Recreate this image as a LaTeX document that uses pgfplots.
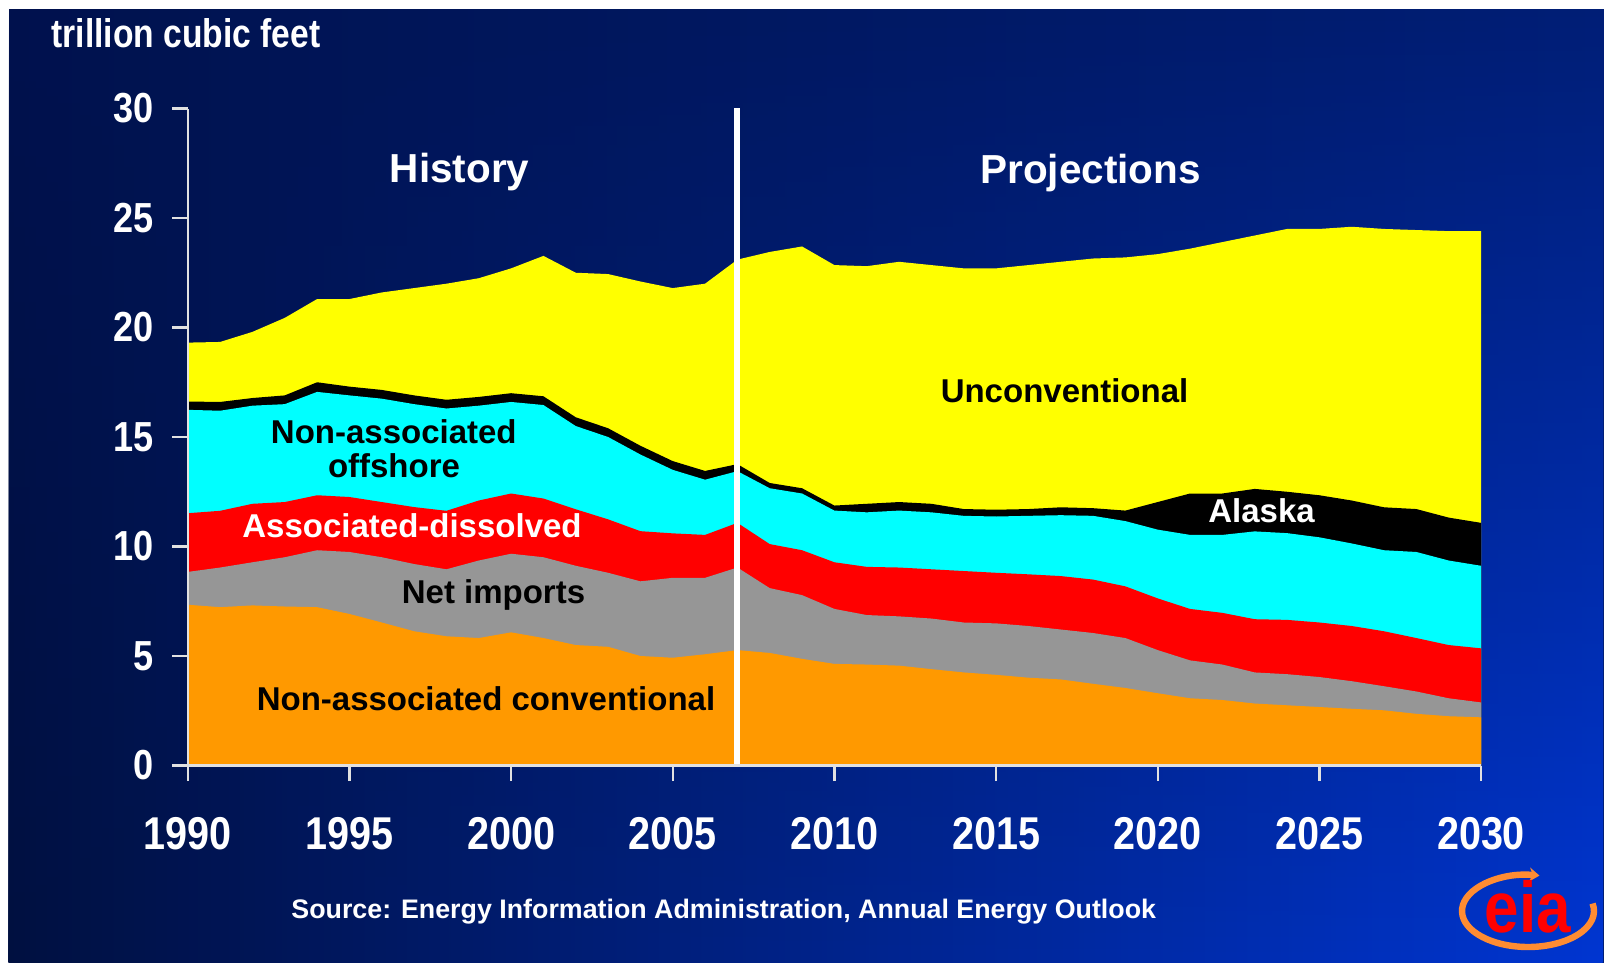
\documentclass[border=0pt]{standalone}
\usepackage{fontspec}
\setmainfont{Liberation Sans}
\newfontfamily\narrowf{Liberation Sans}[FakeStretch=0.86]
\newfontfamily\narrowg{Liberation Sans}[FakeStretch=0.84]
\usepackage{pgfplots}
\pgfplotsset{compat=1.18}
\usepackage{pgfplotstable}
\usetikzlibrary{fadings,arrows.meta}

\definecolor{bgdark}{RGB}{0,18,78}
\definecolor{bgmid}{RGB}{0,30,118}
\definecolor{bgleft}{RGB}{0,16,64}
\definecolor{bgright}{RGB}{0,54,210}
\definecolor{ngorange}{RGB}{255,153,0}
\definecolor{nggray}{RGB}{150,150,150}
\definecolor{ngred}{RGB}{255,0,0}
\definecolor{ngcyan}{RGB}{0,255,255}
\definecolor{ngyellow}{RGB}{255,255,0}
\definecolor{axiswhite}{RGB}{225,225,225}
\definecolor{logoorange}{RGB}{255,140,50}

% cumulative boundaries (trillion cubic feet)
% O = non-assoc. conventional, G = + net imports, R = + associated-dissolved,
% C = + non-assoc. offshore, A = + Alaska, T = + unconventional (total)
\pgfplotstableread{
year O    G    R     C     A     T
1990 7.34 8.84 11.52 16.24 16.62 19.31
1991 7.23 9.04 11.63 16.20 16.60 19.34
1992 7.31 9.28 11.95 16.43 16.78 19.80
1993 7.26 9.51 12.03 16.50 16.90 20.44
1994 7.23 9.83 12.34 17.06 17.50 21.30
1995 6.92 9.75 12.26 16.90 17.30 21.30
1996 6.53 9.51 12.03 16.75 17.15 21.60
1997 6.13 9.20 11.80 16.50 16.90 21.80
1998 5.90 8.96 11.63 16.30 16.70 22.00
1999 5.82 9.36 12.10 16.43 16.83 22.25
2000 6.08 9.67 12.42 16.60 17.00 22.70
2001 5.82 9.51 12.19 16.46 16.86 23.27
2002 5.50 9.12 11.70 15.50 15.90 22.50
2003 5.42 8.80 11.24 15.00 15.40 22.44
2004 5.00 8.41 10.70 14.20 14.60 22.10
2005 4.92 8.57 10.60 13.50 13.90 21.80
2006 5.08 8.57 10.53 13.05 13.45 22.00
2007 5.27 9.04 11.08 13.44 13.76 23.10
2008 5.14 8.10 10.11 12.66 12.90 23.45
2009 4.87 7.78 9.83  12.42 12.66 23.70
2010 4.64 7.15 9.28  11.64 11.87 22.85
2011 4.61 6.87 9.07  11.56 11.95 22.80
2012 4.56 6.81 9.04  11.64 12.03 23.00
2013 4.40 6.71 8.96  11.56 11.95 22.85
2014 4.25 6.53 8.88  11.40 11.71 22.70
2015 4.14 6.49 8.80  11.37 11.68 22.70
2016 4.01 6.37 8.73  11.40 11.71 22.85
2017 3.93 6.21 8.65  11.43 11.79 23.00
2018 3.73 6.05 8.49  11.40 11.75 23.15
2019 3.54 5.82 8.18  11.16 11.64 23.20
2020 3.30 5.27 7.63  10.77 12.03 23.35
2021 3.07 4.80 7.15  10.53 12.42 23.60
2022 2.99 4.61 6.97  10.53 12.42 23.90
2023 2.83 4.25 6.68  10.69 12.63 24.20
2024 2.75 4.17 6.65  10.61 12.50 24.50
2025 2.67 4.04 6.53  10.42 12.34 24.50
2026 2.59 3.85 6.37  10.14 12.10 24.60
2027 2.52 3.62 6.13  9.83  11.79 24.50
2028 2.36 3.38 5.82  9.75  11.71 24.45
2029 2.25 3.07 5.50  9.36  11.32 24.40
2030 2.20 2.88 5.35  9.12  11.08 24.40
}\gasdata

\begin{document}
\begin{tikzpicture}
\useasboundingbox (0bp,0bp) rectangle (802bp,-481.5bp);
\fill[white] (0bp,0bp) rectangle (802bp,-481.5bp);
\shade[left color=bgdark, right color=bgmid] (4.5bp,-4.5bp) rectangle (802bp,-481.5bp);
\shade[left color=bgleft, right color=bgright, path fading=north] (4.5bp,-4.5bp) rectangle (802bp,-481.5bp);

\begin{axis}[
  at={(93.9bp,-382.75bp)}, anchor=south west,
  scale only axis, width=646.6bp, height=328.5bp,
  xmin=1990, xmax=2030, ymin=0, ymax=30,
  axis lines=left,
  axis line style={-, draw=axiswhite, line width=1.3bp},
  axis on top,
  xtick={1990,1995,...,2030}, ytick={0,5,...,30},
  tick align=outside, major tick length=7.8bp,
  tick style={draw=axiswhite, line width=1.2bp},
  /pgf/number format/assume math mode=true,
  x tick label style={font=\narrowf\bfseries\fontsize{23bp}{23bp}\selectfont, text=white, /pgf/number format/1000 sep={}, inner sep=0pt, anchor=north, yshift=-18bp},
  y tick label style={font=\narrowf\bfseries\fontsize{21bp}{21bp}\selectfont, text=white, inner sep=0pt, anchor=east, xshift=-9bp},
]
\addplot[fill=ngyellow, draw=none] table[x=year,y=T]{\gasdata} \closedcycle;
\addplot[fill=black, draw=none] table[x=year,y=A]{\gasdata} \closedcycle;
\addplot[fill=ngcyan, draw=none] table[x=year,y=C]{\gasdata} \closedcycle;
\addplot[fill=ngred, draw=none] table[x=year,y=R]{\gasdata} \closedcycle;
\addplot[fill=nggray, draw=none] table[x=year,y=G]{\gasdata} \closedcycle;
\addplot[fill=ngorange, draw=none] table[x=year,y=O]{\gasdata} \closedcycle;
\addplot[white, line width=3bp] coordinates {(2007,0) (2007,30.1)};
\end{axis}

\node[anchor=base west, inner sep=0pt, text=white, font=\narrowg\bfseries\fontsize{20bp}{20bp}\selectfont] at (25.5bp,-23.75bp) {trillion cubic feet};

\node[anchor=base, inner sep=0pt, text=white, font=\bfseries\fontsize{20.25bp}{20bp}\selectfont] at (229.8bp,-91.35bp) {History};
\node[anchor=base, inner sep=0pt, text=white, font=\bfseries\fontsize{20.25bp}{20bp}\selectfont] at (545.25bp,-91.5bp) {Projections};

\node[anchor=base, inner sep=0pt, text=black, font=\bfseries\fontsize{16.5bp}{16bp}\selectfont] at (196.9bp,-221.5bp) {Non-associated};
\node[anchor=base, inner sep=0pt, text=black, font=\bfseries\fontsize{16.5bp}{16bp}\selectfont] at (197bp,-238.5bp) {offshore};
\node[anchor=base, inner sep=0pt, text=white, font=\bfseries\fontsize{16.5bp}{16bp}\selectfont] at (206bp,-268.75bp) {Associated-dissolved};
\node[anchor=base, inner sep=0pt, text=black, font=\bfseries\fontsize{16.5bp}{16bp}\selectfont] at (246.75bp,-301.8bp) {Net imports};
\node[anchor=base, inner sep=0pt, text=black, font=\bfseries\fontsize{16.5bp}{16bp}\selectfont] at (243bp,-355.2bp) {Non-associated conventional};
\node[anchor=base, inner sep=0pt, text=black, font=\bfseries\fontsize{16.5bp}{16bp}\selectfont] at (532.25bp,-201.1bp) {Unconventional};
\node[anchor=base, inner sep=0pt, text=white, font=\bfseries\fontsize{16.5bp}{16bp}\selectfont] at (630.75bp,-261.35bp) {Alaska};

\node[anchor=base west, inner sep=0pt, text=white, font=\bfseries\fontsize{13.4bp}{13bp}\selectfont] at (145.5bp,-459bp) {Source: Energy Information Administration, Annual Energy Outlook};

% logo
\draw[line width=3.2bp, logoorange, {Stealth[length=5bp,width=7bp]}-]
  ([shift={(80:33bp and 18bp)}]764bp,-455.5bp) arc[start angle=80, end angle=372, x radius=33bp, y radius=18bp];
\node[anchor=base, inner sep=0pt, text=red, font=\narrowf\bfseries\fontsize{36bp}{36bp}\selectfont] at (764bp,-466bp) {eia};
\end{tikzpicture}
\end{document}
